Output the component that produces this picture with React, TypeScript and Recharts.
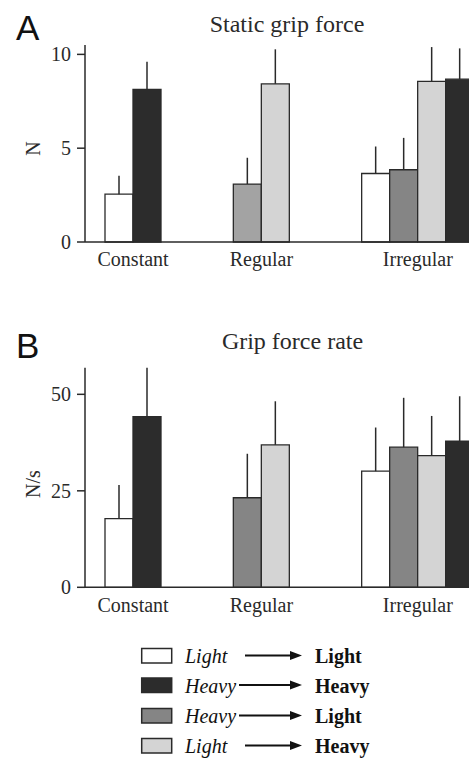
import React from "react"
import { Bar, BarChart, Cell, ErrorBar, XAxis, YAxis } from "recharts"

const categories = ["Constant", "Regular", "Irregular"]

// condition order inside a group (bars are packed left, absent ones skipped)
const conditionOrder = ["LL", "HL", "LH", "HH"]

// A: static grip force (N)
const staticLL = [2.55, null, 3.65]
const staticHH = [8.13, null, 8.68]
const staticHL = [null, 3.09, 3.85]
const staticLH = [null, 8.43, 8.56]
const staticErrLL = [0.98, null, 1.44]
const staticErrHH = [1.48, null, 1.64]
const staticErrHL = [null, 1.4, 1.7]
const staticErrLH = [null, 1.84, 1.83]

// B: grip force rate (N/s)
const rateLL = [17.8, null, 30.1]
const rateHH = [44.2, null, 37.9]
const rateHL = [null, 23.2, 36.3]
const rateLH = [null, 36.9, 34.1]
const rateErrLL = [8.7, null, 11.3]
const rateErrHH = [12.7, null, 11.6]
const rateErrHL = [null, 11.4, 12.8]
const rateErrLH = [null, 11.3, 10.3]

const staticTicks = [0, 5, 10]
const rateTicks = [0, 25, 50]

const legendRows = [
  { key: "LL", from: "Light", to: "Light" },
  { key: "HH", from: "Heavy", to: "Heavy" },
  { key: "HL", from: "Heavy", to: "Light" },
  { key: "LH", from: "Light", to: "Heavy" },
]

const colors: Record<string, string> = {
  LL: "#ffffff",
  HH: "#2c2c2c",
  HL: "#858585",
  LH: "#d4d4d4",
}

const SERIF = "'Liberation Serif', 'Times New Roman', serif"
const SANS = "'Liberation Sans', Arial, sans-serif"
const INK = "#2a2a2a"

// layout
const W = 490
const PAD_L = 12
const CAT_GAP = 8
const PLOT_LEFT = 85
const PLOT_RIGHT = W - 8
const X_AXIS_H = 30
const BAND = (PLOT_RIGHT - PLOT_LEFT - PAD_L) / categories.length
const SLOT = (BAND - 2 * CAT_GAP) / conditionOrder.length

function buildRows(vals: Record<string, (number | null)[]>, errs: Record<string, (number | null)[]>) {
  return categories.map((name, i) => {
    const present = conditionOrder.filter((k) => vals[k][i] != null)
    const row: any = { name, n: present.length }
    for (let j = 0; j < conditionOrder.length; j++) {
      const k = present[j]
      row["c" + j] = k
      row["s" + j] = k ? vals[k][i] : null
      row["e" + j] = k ? [0, errs[k][i]] : [0, 0]
    }
    return row
  })
}

const staticRows = buildRows(
  { LL: staticLL, HH: staticHH, HL: staticHL, LH: staticLH },
  { LL: staticErrLL, HH: staticErrHH, HL: staticErrHL, LH: staticErrLH }
)
const rateRows = buildRows(
  { LL: rateLL, HH: rateHH, HL: rateHL, LH: rateLH },
  { LL: rateErrLL, HH: rateErrHH, HL: rateErrHL, LH: rateErrLH }
)

function CatTick(props: any) {
  const { x, y, payload, rows } = props
  const row = rows.find((r: any) => r.name === payload.value)
  const dx = ((row.n - conditionOrder.length) / 2) * SLOT
  return (
    <text x={x + dx} y={y} dy="0.71em" textAnchor="middle" fontFamily={SERIF} fontSize={20} fill={INK}>
      {payload.value}
    </text>
  )
}

function Panel({ rows, height, top, zeroY, domain, ticks, colorFor }: any) {
  return (
    <BarChart
      width={W}
      height={height}
      data={rows}
      margin={{ top, right: W - PLOT_RIGHT, bottom: height - zeroY - X_AXIS_H, left: PLOT_LEFT - 60 }}
      barCategoryGap={CAT_GAP}
      barGap={0}
    >
      <XAxis
        dataKey="name"
        height={X_AXIS_H}
        padding={{ left: PAD_L, right: 0 }}
        tickLine={false}
        tickSize={0}
        tickMargin={10}
        axisLine={{ stroke: INK, strokeWidth: 1.5 }}
        tick={<CatTick rows={rows} />}
      />
      <YAxis
        width={60}
        domain={domain}
        ticks={ticks}
        tickSize={8}
        tickMargin={6}
        axisLine={{ stroke: INK, strokeWidth: 1.5 }}
        tickLine={{ stroke: INK, strokeWidth: 1.5 }}
        tick={{ fontFamily: SERIF, fontSize: 20, fill: INK }}
      />
      {conditionOrder.map((_, j) => (
        <Bar key={j} dataKey={"s" + j} stroke={INK} strokeWidth={1.3} isAnimationActive={false}>
          {rows.map((r: any, i: number) => (
            <Cell key={i} fill={r["c" + j] ? colorFor(r["c" + j], r.name) : "none"} />
          ))}
          <ErrorBar dataKey={"e" + j} width={0} stroke={INK} strokeWidth={1.5} isAnimationActive={false} />
        </Bar>
      ))}
    </BarChart>
  )
}

function Arrow({ x1, x2, y }: { x1: number; x2: number; y: number }) {
  return (
    <g>
      <line x1={x1} x2={x2 - 10} y1={y} y2={y} stroke="#111" strokeWidth={2} />
      <polygon points={`${x2 - 12},${y - 4.5} ${x2},${y} ${x2 - 12},${y + 4.5}`} fill="#111" />
    </g>
  )
}

export default function App() {
  const legendTops = [648.5, 678, 708.5, 738.5]
  return (
    <div style={{ position: "absolute", left: 0, top: 0, width: 469, height: 759, overflow: "hidden", background: "#fff" }}>
      <div style={{ position: "absolute", left: 0, top: 0 }}>
        <Panel
          rows={staticRows}
          height={280}
          top={45}
          zeroY={242}
          domain={[0, 10.5]}
          ticks={staticTicks}
          colorFor={(k: string, cat: string) => (k === "HL" && cat === "Regular" ? "#a3a3a3" : colors[k])}
        />
      </div>
      <div style={{ position: "absolute", left: 0, top: 280 }}>
        <Panel
          rows={rateRows}
          height={340}
          top={87.7}
          zeroY={307.3}
          domain={[0, 55.7]}
          ticks={rateTicks}
          colorFor={(k: string) => colors[k]}
        />
      </div>
      <svg width={469} height={759} style={{ position: "absolute", left: 0, top: 0, pointerEvents: "none" }}>
        <text x={16} y={40} fontFamily={SANS} fontSize={35} fill="#111">A</text>
        <text x={287} y={31.5} textAnchor="middle" fontFamily={SERIF} fontSize={24} fill={INK}>Static grip force</text>
        <text transform="translate(40,148.5) rotate(-90)" textAnchor="middle" fontFamily={SERIF} fontSize={20} fill={INK}>N</text>

        <text x={16} y={358.3} fontFamily={SANS} fontSize={35} fill="#111">B</text>
        <text x={292.5} y={349} textAnchor="middle" fontFamily={SERIF} fontSize={24} fill={INK}>Grip force rate</text>
        <text transform="translate(40,484) rotate(-90)" textAnchor="middle" fontFamily={SERIF} fontSize={20} fill={INK}>N/s</text>

        {legendRows.map((r, i) => {
          const t = legendTops[i]
          return (
            <g key={r.key}>
              <rect x={141.7} y={t} width={30} height={14.5} fill={colors[r.key]} stroke={INK} strokeWidth={1.5} />
              <text x={185} y={t + 14.5} fontFamily={SERIF} fontStyle="italic" fontSize={20} fill="#111">{r.from}</text>
              <Arrow x1={r.from === "Light" ? 245 : 239} x2={302} y={t + 7} />
              <text x={315} y={t + 14.5} fontFamily={SERIF} fontWeight="bold" fontSize={20} fill="#111">{r.to}</text>
            </g>
          )
        })}
      </svg>
    </div>
  )
}
